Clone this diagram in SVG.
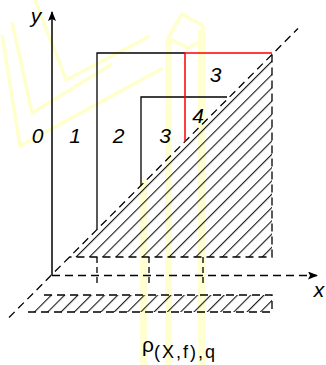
<svg xmlns="http://www.w3.org/2000/svg" width="326" height="365" viewBox="0 0 326 365">
<defs>
<pattern id="hatch" patternUnits="userSpaceOnUse" width="9.4" height="9.4" patternTransform="rotate(45)">
<line x1="0.6" y1="0" x2="0.6" y2="9.4" stroke="#000" stroke-width="1"/>
</pattern>
<marker id="arr" markerWidth="10" markerHeight="8" refX="9" refY="4" orient="auto" markerUnits="userSpaceOnUse">
<path d="M0,0 L10,4 L0,8 L2,4 Z" fill="#000"/>
</marker>
</defs>
<style>
.wm{fill:none;stroke:#ffffcc;stroke-width:3.5}
.wmf{fill:#ffffd2;stroke:none}
.sol{fill:none;stroke:#000;stroke-width:1.3}
.red{fill:none;stroke:#ff0000;stroke-width:1.5}
.dash{fill:none;stroke:#000;stroke-width:1.3;stroke-dasharray:8,5}
.lbl{font-family:"Liberation Sans",Arial,sans-serif;font-style:italic;font-size:21px;fill:#000;text-anchor:middle}
.math{font-family:"Liberation Sans",Arial,sans-serif;fill:#000}
</style>
<rect width="326" height="365" fill="#fff"/>
<g id="watermark">
<polyline class="wm" points="2,35 20,146 163,68"/>
<polyline class="wm" points="12,22 32,113 112,64"/>
<polyline class="wm" points="35,0 66,80 150,36"/>
<polygon class="wm" points="168,38 182,14 203,26 203,40 188,48"/>
<rect class="wmf" x="165" y="40" width="7" height="325"/>
<rect class="wmf" x="198" y="30" width="7" height="335"/>
<rect class="wmf" x="140" y="180" width="7" height="185"/>
</g>
<g id="hatched-triangle">
<polygon points="272,54.5 272,257 69.5,257" fill="url(#hatch)"/>
<polyline class="dash" points="272,54.5 272,257 69.5,257"/>
</g>
<g id="hatched-strip">
<polygon points="27,312 44,295 272,295 272,312" fill="url(#hatch)"/>
<polyline class="dash" points="44,295 272,295 272,312 27,312"/>
</g>
<g id="connectors">
<line class="dash" x1="9" y1="317.5" x2="298" y2="28.5"/>
<line x1="52" y1="275" x2="52" y2="12" stroke="#000" stroke-width="1.5" marker-end="url(#arr)"/>
<line class="dash" x1="52" y1="275.5" x2="317" y2="275.5" marker-end="url(#arr)"/>
<line class="dash" x1="97" y1="257" x2="97" y2="285" style="stroke-dasharray:6,4"/>
<line class="dash" x1="149" y1="257" x2="149" y2="285" style="stroke-dasharray:6,4"/>
<line class="dash" x1="203" y1="257" x2="203" y2="285" style="stroke-dasharray:6,4"/>
</g>
<g id="region-1">
<polyline class="sol" points="97,229.5 97,53 185,53"/>
</g>
<g id="region-2">
<polyline class="sol" points="141,185.5 141,97 227,97"/>
</g>
<g id="region-red">
<polyline class="red" points="272,53 185,53 185,142"/>
</g>
<g id="labels">
<text class="lbl" x="36" y="23">y</text>
<text class="lbl" x="319" y="297">x</text>
<text class="lbl" x="37.5" y="143">0</text>
<text class="lbl" x="75" y="143">1</text>
<text class="lbl" x="118.5" y="143">2</text>
<text class="lbl" x="165" y="143">3</text>
<text class="lbl" x="215.5" y="82">3</text>
<text class="lbl" x="198" y="123">4</text>
<text class="math" x="142" y="352" font-size="21">ρ<tspan font-size="18" dy="6" letter-spacing="2">(X,f),q</tspan></text>
</g>
</svg>
